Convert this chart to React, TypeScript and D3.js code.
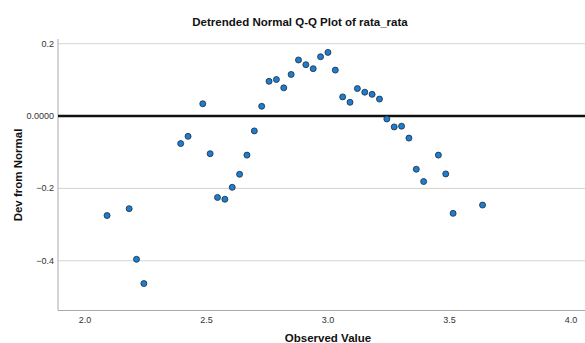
import React, { useEffect, useRef } from "react";
import * as d3 from "d3";

// observed values of rata_rata (multiples of 1/33)
const observed = [
  69, 72, 73, 74, 79, 80, 82, 83, 84, 85, 86, 87, 88, 89, 90, 91, 92, 93, 94,
  95, 96, 97, 98, 99, 100, 101, 102, 103, 104, 105, 106, 107, 108, 109, 110,
  111, 112, 114, 115, 116, 120,
].map((k) => k / 33);

const deviation = [
  -0.275, -0.256, -0.396, -0.463, -0.076, -0.056, 0.034, -0.104, -0.225, -0.23,
  -0.197, -0.161, -0.108, -0.041, 0.027, 0.096, 0.101, 0.078, 0.115, 0.155,
  0.142, 0.131, 0.164, 0.176, 0.127, 0.053, 0.038, 0.076, 0.066, 0.06, 0.047,
  -0.008, -0.03, -0.028, -0.061, -0.147, -0.181, -0.108, -0.16, -0.269, -0.246,
];

const xTicks = [2.0, 2.5, 3.0, 3.5, 4.0];
const yTicks = [0.2, 0, -0.2, -0.4];

const App = () => {
  const svgRef = useRef(null);

  useEffect(() => {
    const width = 585;
    const height = 343;
    const svg = d3.select(svgRef.current);
    svg.selectAll("*").remove();
    svg.attr("width", width).attr("height", height);

    const left = 58;
    const right = 585;
    const top = 39;
    const bottom = 310.5;

    const x = d3.scaleLinear().domain([1.889, 4.058]).range([left, right]);
    const y = d3.scaleLinear().domain([-0.5375, 0.213]).range([bottom, top]);

    // gridlines
    svg
      .selectAll(".grid")
      .data(yTicks.filter((d) => d !== 0))
      .enter()
      .append("line")
      .attr("x1", left)
      .attr("x2", right)
      .attr("y1", (d) => y(d))
      .attr("y2", (d) => y(d))
      .attr("stroke", "#d4d4d4")
      .attr("stroke-width", 1);

    // axes
    svg
      .append("line")
      .attr("x1", left)
      .attr("x2", left)
      .attr("y1", top)
      .attr("y2", bottom)
      .attr("stroke", "#aaaaaa");
    svg
      .append("line")
      .attr("x1", left)
      .attr("x2", right)
      .attr("y1", bottom)
      .attr("y2", bottom)
      .attr("stroke", "#aaaaaa");

    // reference line at 0
    svg
      .append("line")
      .attr("x1", left)
      .attr("x2", right)
      .attr("y1", y(0))
      .attr("y2", y(0))
      .attr("stroke", "#111")
      .attr("stroke-width", 2.5);

    const font = "'Liberation Sans', Arial, sans-serif";

    svg
      .selectAll(".ytick")
      .data(yTicks)
      .enter()
      .append("text")
      .attr("x", 54)
      .attr("y", (d) => y(d) + 3)
      .attr("text-anchor", "end")
      .attr("font-family", font)
      .attr("font-size", 9)
      .attr("fill", "#333")
      .text((d) => (d === 0 ? "0.0000" : d3.format(".1f")(d)));

    svg
      .selectAll(".xtick")
      .data(xTicks)
      .enter()
      .append("text")
      .attr("x", (d) => x(d))
      .attr("y", 323)
      .attr("text-anchor", "middle")
      .attr("font-family", font)
      .attr("font-size", 9)
      .attr("fill", "#333")
      .text((d) => d3.format(".1f")(d));

    svg
      .append("text")
      .attr("x", 300)
      .attr("y", 26)
      .attr("text-anchor", "middle")
      .attr("font-family", font)
      .attr("font-weight", "bold")
      .attr("font-size", 11.5)
      .attr("fill", "#111")
      .text("Detrended Normal Q-Q Plot of rata_rata");

    svg
      .append("text")
      .attr("x", 328)
      .attr("y", 342)
      .attr("text-anchor", "middle")
      .attr("font-family", font)
      .attr("font-weight", "bold")
      .attr("font-size", 11.5)
      .attr("fill", "#111")
      .text("Observed Value");

    svg
      .append("text")
      .attr("transform", "translate(22,175) rotate(-90)")
      .attr("text-anchor", "middle")
      .attr("font-family", font)
      .attr("font-weight", "bold")
      .attr("font-size", 11.5)
      .attr("fill", "#111")
      .text("Dev from Normal");

    svg
      .selectAll(".point")
      .data(observed.map((v, i) => ({ v, d: deviation[i] })))
      .enter()
      .append("circle")
      .attr("cx", (p) => x(p.v))
      .attr("cy", (p) => y(p.d))
      .attr("r", 3)
      .attr("fill", "#1f7dd1")
      .attr("stroke", "#1c2b3a")
      .attr("stroke-width", 0.8);
  }, []);

  return (
    <svg
      ref={svgRef}
      style={{ position: "absolute", left: 0, top: 0, background: "white" }}
    ></svg>
  );
};

export default App;
